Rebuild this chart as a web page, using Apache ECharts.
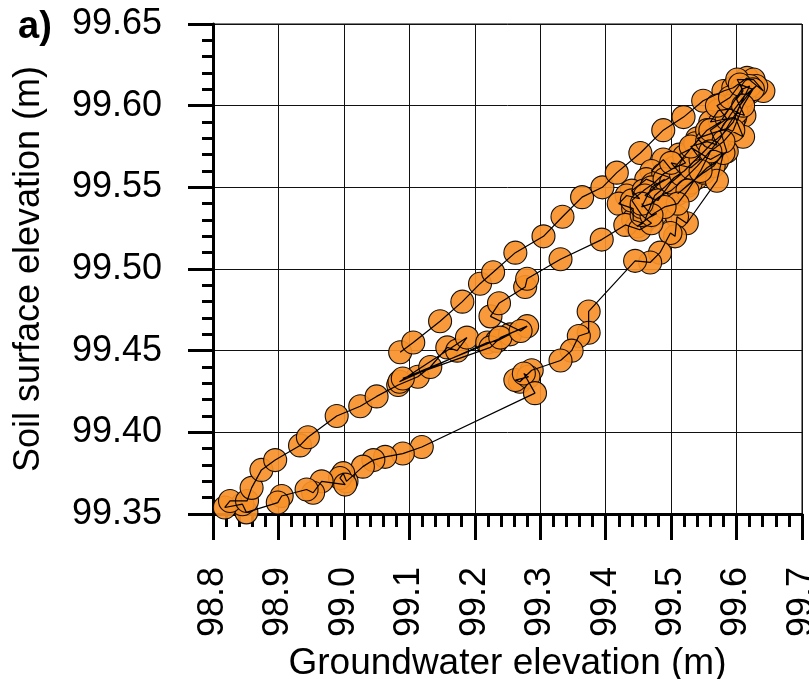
<!DOCTYPE html>
<html>
<head>
<meta charset="utf-8">
<script src="https://cdn.jsdelivr.net/npm/echarts@6/dist/echarts.min.js"></script>
<style>html,body{margin:0;padding:0;background:#fff;}#c{width:809px;height:679px;}</style>
</head>
<body>
<div id="c"></div>
<script>
// Groundwater elevation (m) — x values, in measurement order
var groundwater = [
 99.086,99.106,99.147,99.181,99.208,99.228,99.262,99.305,99.334,99.364,99.395,99.417,99.453,99.488,99.519,99.549,99.580,99.595,99.616,99.641,99.626,99.601,99.610,
 99.600,99.612,99.590,99.572,99.560,99.598,99.610,99.585,99.562,99.540,99.552,99.578,99.560,99.532,99.512,99.522,99.500,99.488,99.470,99.498,99.480,99.462,99.440,99.452,99.432,99.420,99.442,
 99.442,99.457,99.448,99.468,99.478,99.460,
 99.475,99.490,99.505,99.520,99.535,99.548,99.565,99.580,99.595,99.605,99.620,99.630,99.612,99.590,99.575,99.585,99.570,99.555,99.540,99.525,99.510,99.530,99.550,99.565,99.580,
 99.570,99.524,99.509,99.506,99.499,99.483,99.468,99.445,99.374,99.374,99.359,99.348,99.331,99.287,99.269,99.262,99.282,99.275,99.292,
 99.119,99.090,99.063,99.045,99.029,99.004,98.999,98.994,99.002,98.966,98.953,98.943,98.905,98.899,98.851,98.845,
 98.818,98.826,98.852,98.859,98.874,98.895,98.933,98.945,98.989,99.025,99.050,99.083,
 99.113,99.132,99.158,99.173,99.188,99.085,99.219,99.234,99.254,99.090,99.224,99.239,99.280,99.270,99.224,99.237,
 99.277,99.280,99.331,99.394,99.430,
 99.452,99.470,99.455,99.440,99.458,99.472,99.488,99.505,99.520,99.537,99.555,99.575,99.592,99.608,99.620,99.600,99.575,99.555,99.540,99.520,99.500,99.485,99.470,99.455,
 99.470,99.490,99.460,99.480,99.500,99.515,99.500,99.530,99.545,99.530,99.555,99.570,99.560,99.585,99.570,99.590,99.605,99.625,99.610,99.595,99.580,99.560,99.545,99.525,99.510,99.490,99.470,99.455
];
// Soil surface elevation (m) — y values, same order
var soilSurface = [
 99.449,99.455,99.468,99.480,99.491,99.498,99.510,99.520,99.532,99.544,99.550,99.559,99.571,99.585,99.593,99.603,99.609,99.611,99.617,99.609,99.616,99.616,99.609,
 99.604,99.594,99.598,99.597,99.590,99.593,99.581,99.586,99.583,99.580,99.575,99.571,99.567,99.574,99.570,99.565,99.561,99.567,99.560,99.556,99.552,99.555,99.548,99.543,99.545,99.540,99.537,
 99.530,99.528,99.526,99.532,99.534,99.530,
 99.545,99.550,99.556,99.560,99.566,99.571,99.578,99.583,99.590,99.600,99.608,99.612,99.606,99.594,99.585,99.572,99.566,99.562,99.556,99.551,99.546,99.553,99.559,99.563,99.571,
 99.554,99.528,99.532,99.520,99.522,99.510,99.504,99.505,99.474,99.461,99.459,99.450,99.444,99.438,99.431,99.432,99.434,99.436,99.424,
 99.391,99.387,99.385,99.383,99.379,99.370,99.375,99.372,99.368,99.370,99.363,99.365,99.361,99.357,99.351,99.356,
 99.354,99.358,99.358,99.366,99.377,99.383,99.392,99.397,99.410,99.416,99.422,99.429,
 99.434,99.440,99.452,99.450,99.458,99.431,99.455,99.456,99.460,99.433,99.452,99.458,99.465,99.462,99.471,99.479,
 99.489,99.494,99.506,99.518,99.527,
 99.524,99.528,99.533,99.542,99.548,99.552,99.558,99.562,99.569,99.577,99.585,99.590,99.600,99.610,99.612,99.596,99.580,99.570,99.563,99.555,99.548,99.545,99.540,99.538,
 99.550,99.555,99.545,99.542,99.553,99.558,99.565,99.562,99.567,99.575,99.578,99.576,99.585,99.592,99.600,99.605,99.613,99.610,99.600,99.585,99.578,99.572,99.560,99.548,99.540,99.538,99.533,99.540
];
var xTicks = [98.8, 98.9, 99.0, 99.1, 99.2, 99.3, 99.4, 99.5, 99.6, 99.7];
var yTicks = [99.35, 99.40, 99.45, 99.50, 99.55, 99.60, 99.65];

var pts = groundwater.map(function (g, i) { return [g, soilSurface[i]]; });
var FONT = 'Liberation Sans, Arial, Helvetica, sans-serif';

var chart = echarts.init(document.getElementById('c'), null, {renderer: 'canvas'});
chart.setOption({
  animation: false,
  backgroundColor: '#fff',
  grid: {left: 213, right: 7, top: 24, bottom: 165, containLabel: false, outerBoundsMode: 'none',
    show: true, borderColor: '#000', borderWidth: 1, backgroundColor: 'transparent'},
  xAxis: {
    type: 'value', min: xTicks[0], max: xTicks[xTicks.length - 1], interval: 0.1,
    name: 'Groundwater elevation (m)', nameLocation: 'middle', nameGap: 125,
    nameTextStyle: {fontFamily: FONT, fontSize: 37, color: '#000'},
    axisLine: {show: true, onZero: false, lineStyle: {color: '#000', width: 3}},
    axisTick: {show: true, inside: false, length: 26, lineStyle: {color: '#000', width: 3}},
    minorTick: {show: true, splitNumber: 5, length: 13, lineStyle: {color: '#000', width: 3}},
    splitLine: {show: true, lineStyle: {color: '#111', width: 1}},
    axisLabel: {rotate: 90, margin: 53, fontFamily: FONT, fontSize: 36, color: '#000', showMinLabel: true, showMaxLabel: true,
      formatter: function (v) { return v.toFixed(1); }}
  },
  yAxis: {
    type: 'value', min: yTicks[0], max: yTicks[yTicks.length - 1], interval: 0.05,
    name: 'Soil surface elevation (m)', nameLocation: 'middle', nameGap: 166,
    nameTextStyle: {fontFamily: FONT, fontSize: 36, color: '#000'},
    axisLine: {show: true, onZero: false, lineStyle: {color: '#000', width: 3}},
    axisTick: {show: true, inside: false, length: 25, lineStyle: {color: '#000', width: 3}},
    minorTick: {show: true, splitNumber: 5, length: 11, lineStyle: {color: '#000', width: 3}},
    splitLine: {show: true, lineStyle: {color: '#111', width: 1}},
    axisLabel: {margin: 51, fontFamily: FONT, fontSize: 36, color: '#000', showMinLabel: true, showMaxLabel: true,
      formatter: function (v) { return v.toFixed(2); }}
  },
  graphic: [{
    type: 'text', left: 18, top: 9,
    style: {text: 'a)', font: 'bold 38px ' + FONT, fill: '#000'}
  }],
  series: [
    {
      type: 'scatter', data: pts, symbol: 'circle', symbolSize: 23, z: 2,
      itemStyle: {color: '#F7912A', opacity: 0.92, borderColor: '#000', borderWidth: 1.1}
    },
    {
      type: 'line', data: pts, showSymbol: false, symbol: 'none', z: 3,
      lineStyle: {color: '#000', width: 1.2}
    }
  ]
});
</script>
</body>
</html>
